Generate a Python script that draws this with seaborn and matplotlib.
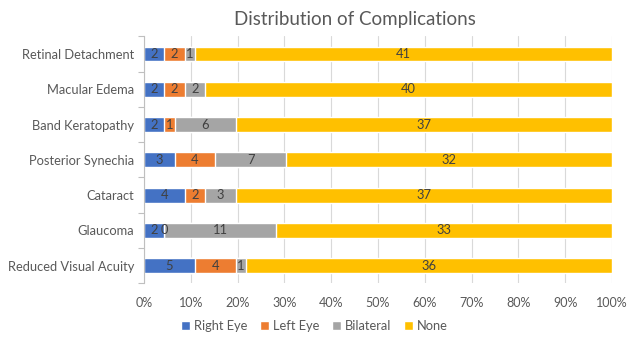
import numpy as np
import pandas as pd
import seaborn as sns
import matplotlib.pyplot as plt
from matplotlib.patches import Patch
from matplotlib.ticker import PercentFormatter

# data (counts per eye group)
complications = ['Retinal Detachment', 'Macular Edema', 'Band Keratopathy',
                 'Posterior Synechia', 'Cataract', 'Glaucoma', 'Reduced Visual Acuity']
right_eye = [2, 2, 2, 3, 4, 2, 5]
left_eye = [2, 2, 1, 4, 2, 0, 4]
bilateral = [1, 2, 6, 7, 3, 11, 1]
none = [41, 40, 37, 32, 37, 33, 36]

series_names = ['Right Eye', 'Left Eye', 'Bilateral', 'None']
colors = ['#4472C4', '#ED7D31', '#A5A5A5', '#FFC000']
text_color = '#595959'

df = pd.DataFrame({'complication': complications, 'Right Eye': right_eye,
                   'Left Eye': left_eye, 'Bilateral': bilateral, 'None': none})
counts = df[series_names].to_numpy(dtype=float)
totals = counts.sum(axis=1, keepdims=True)
pct = counts / totals * 100
cum = np.cumsum(pct, axis=1)

sns.set_theme(style='white')
plt.rcParams['font.family'] = ['Lato', 'DejaVu Sans']

fig = plt.figure(figsize=(6.29, 3.43), dpi=100)
ax = fig.add_axes([0.229, 0.174, 0.744, 0.72])

# stacked bars: draw cumulative totals from the back to the front
for i in range(len(series_names) - 1, -1, -1):
    sns.barplot(x=cum[:, i], y=df['complication'], color=colors[i], orient='h',
                width=0.42, saturation=1, ax=ax, zorder=2)

# segment labels
for r in range(len(complications)):
    start = 0
    for i in range(len(series_names)):
        mid = start + pct[r, i] / 2
        ax.text(mid, r, f'{int(counts[r, i])}', ha='center', va='center',
                fontsize=9.3, color='#404040', zorder=3)
        start += pct[r, i]

ax.set_xlim(0, 100)
ax.set_ylim(len(complications) - 0.5, -0.5)
ax.xaxis.set_major_locator(plt.MultipleLocator(10))
ax.xaxis.set_major_formatter(PercentFormatter(decimals=0))
ax.grid(axis='x', color='#D9D9D9', linewidth=0.8, zorder=0)
ax.set_xlabel('')
ax.set_ylabel('')

for s in ['top', 'right', 'bottom']:
    ax.spines[s].set_visible(False)
ax.spines['left'].set_color('#BFBFBF')
ax.spines['left'].set_linewidth(0.8)

ax.set_yticks(np.arange(-0.5, len(complications), 1), minor=True)
ax.tick_params(axis='y', which='major', length=0, labelsize=9.3, labelcolor=text_color, pad=7)
ax.tick_params(axis='y', which='minor', length=4, color='#BFBFBF', width=0.8, left=True)
ax.tick_params(axis='x', length=0, labelsize=9, labelcolor=text_color, pad=10)

ax.set_title('Distribution of Complications', fontsize=13.5, color=text_color, pad=8, x=0.45)

handles = [Patch(facecolor=c, label=n) for c, n in zip(colors, series_names)]
fig.legend(handles=handles, loc='center', bbox_to_anchor=(0.5, 0.05), ncol=4, frameon=False,
           fontsize=9.3, labelcolor=text_color, handlelength=0.7, handleheight=0.7,
           handletextpad=0.3, columnspacing=1.0)

fig.savefig('out.png', dpi=100)
